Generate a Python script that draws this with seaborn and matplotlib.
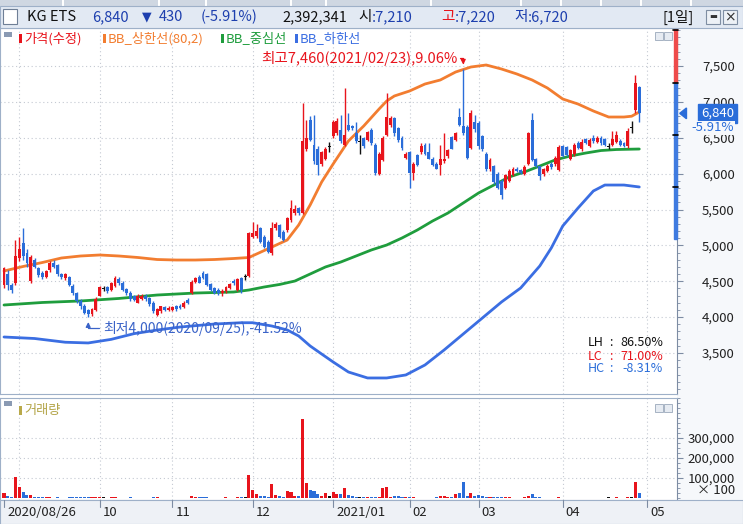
import numpy as np
import pandas as pd
import matplotlib
matplotlib.use("Agg")
import matplotlib.pyplot as plt
import matplotlib.transforms as mtransforms
from matplotlib.patches import Rectangle, Polygon
from matplotlib.ticker import MultipleLocator
import seaborn as sns

# ---------------- data ----------------
ticker = "KG ETS"
cal_start, cal_end = "2020-08-26", "2021-05-31"
krx_holidays = ["2020-09-30", "2020-10-01", "2020-10-02", "2020-10-09",
                "2020-12-25", "2020-12-31", "2021-01-01", "2021-02-11",
                "2021-02-12", "2021-03-01"]

opens = [4450, 4600, 4450, 4470, 4820, 5030, 4900, 4500, 4800, 4680,
         4620, 4560, 4650, 4760, 4720, 4600, 4540, 4560, 4440, 4330,
         4230, 4150, 4100, 4040, 4100, 4300, 4400, 4420, 4380, 4440,
         4530, 4480, 4390, 4340, 4290, 4200, 4250, 4300, 4260, 4200,
         4030, 4080, 4140, 4100, 4100, 4150, 4160, 4140, 4240, 4330,
         4490, 4560, 4610, 4600, 4460, 4400, 4380, 4330, 4360, 4400,
         4510, 4380, 4540, 4560, 4580, 5120, 5130, 5240, 5120, 5050,
         4890, 5240, 5280, 5190, 5210, 5350, 5450, 5520, 5450, 6340,
         6750, 6400, 6350, 6140, 6210, 6380, 6520, 6560, 6610, 6400,
         6680, 6660, 6560, 6450, 6490, 6470, 6610, 6400, 6000, 6190,
         6540, 6680, 6770, 6630, 6500, 6220, 6300, 6010, 6260, 6300,
         6400, 6300, 6210, 6140, 6120, 6170, 6240, 6510, 6470, 6790,
         6660, 6650, 6360, 6720, 6700, 6520, 6280, 6060, 6100, 6000,
         5900, 5800, 5900, 5980, 6070, 6050, 6000, 6140, 6750, 6200,
         6100, 5990, 6040, 6140, 6130, 6050, 6380, 6370, 6210, 6270,
         6430, 6340, 6480, 6390, 6500, 6440, 6490, 6480, 6380, 6400,
         6440, 6460, 6420, 6380, 6640, 6890, 7210]
highs = [4700, 4650, 4470, 5080, 5120, 5240, 4950, 4860, 4830, 4700,
         4640, 4660, 4780, 4790, 4740, 4620, 4620, 4580, 4460, 4350,
         4250, 4180, 4110, 4130, 4280, 4440, 4430, 4440, 4490, 4580,
         4560, 4500, 4410, 4360, 4310, 4320, 4320, 4320, 4280, 4220,
         4130, 4160, 4160, 4150, 4160, 4170, 4180, 4220, 4260, 4520,
         4560, 4590, 4640, 4620, 4470, 4420, 4400, 4390, 4440, 4480,
         4530, 4550, 4560, 4600, 5180, 5330, 5300, 5260, 5140, 5070,
         5330, 5320, 5300, 5210, 5400, 5630, 5560, 5540, 6980, 6750,
         6800, 6820, 6380, 6320, 6370, 6440, 6750, 6780, 6820, 7190,
         6840, 6680, 6720, 6540, 6510, 6600, 6640, 6420, 6300, 6520,
         7120, 6800, 6790, 6650, 6530, 6300, 6320, 6160, 6280, 6420,
         6420, 6420, 6230, 6160, 6400, 6560, 6350, 6530, 6580, 6910,
         7460, 6680, 6880, 6820, 6740, 6540, 6300, 6220, 6120, 6020,
         5920, 6000, 6060, 6090, 6090, 6070, 6120, 6580, 6840, 6220,
         6110, 6080, 6130, 6160, 6240, 6400, 6400, 6390, 6350, 6420,
         6460, 6480, 6500, 6490, 6540, 6520, 6520, 6500, 6420, 6600,
         6600, 6480, 6440, 6640, 6730, 7380, 7220]
lows = [4400, 4380, 4330, 4450, 4780, 4800, 4700, 4480, 4680, 4560,
        4530, 4540, 4630, 4680, 4580, 4530, 4520, 4430, 4310, 4200,
        4120, 4040, 4000, 4020, 4090, 4290, 4370, 4340, 4360, 4420,
        4450, 4360, 4310, 4220, 4220, 4190, 4240, 4230, 4160, 4060,
        4010, 4060, 4090, 4090, 4080, 4090, 4110, 4130, 4180, 4320,
        4470, 4470, 4530, 4440, 4360, 4320, 4310, 4300, 4340, 4390,
        4450, 4360, 4340, 4520, 4560, 5100, 5100, 5030, 4960, 4890,
        4870, 5220, 5100, 5060, 5190, 5330, 5430, 5420, 5440, 6320,
        6450, 6140, 5980, 6100, 6190, 6300, 6500, 6540, 6420, 6380,
        6590, 6610, 6420, 6280, 6360, 6450, 6400, 5980, 5980, 6170,
        6520, 6650, 6530, 6440, 6330, 6200, 5800, 5910, 6100, 6280,
        6260, 6200, 6100, 6060, 5980, 6150, 6220, 6340, 6450, 6660,
        6540, 6200, 6340, 6580, 6340, 6320, 6040, 6040, 5860, 5780,
        5650, 5780, 5880, 5960, 6020, 5990, 5980, 6120, 6170, 6090,
        5910, 5970, 6020, 6070, 6110, 6030, 6230, 6240, 6190, 6250,
        6340, 6320, 6410, 6370, 6430, 6420, 6400, 6380, 6340, 6390,
        6420, 6380, 6370, 6360, 6560, 6850, 6720]
closes = [4680, 4450, 4380, 4850, 4950, 4850, 4750, 4840, 4700, 4590,
          4560, 4640, 4750, 4700, 4600, 4560, 4600, 4450, 4330, 4230,
          4150, 4060, 4040, 4110, 4250, 4420, 4400, 4360, 4470, 4540,
          4470, 4380, 4330, 4250, 4240, 4300, 4300, 4250, 4180, 4080,
          4110, 4150, 4100, 4130, 4140, 4110, 4130, 4200, 4200, 4490,
          4540, 4480, 4550, 4450, 4380, 4340, 4330, 4370, 4420, 4460,
          4470, 4530, 4380, 4560, 5170, 5170, 5200, 5050, 4980, 4910,
          5240, 5300, 5120, 5080, 5380, 5520, 5500, 5450, 6450, 6490,
          6470, 6170, 6120, 6300, 6350, 6380, 6720, 6740, 6450, 6540,
          6610, 6630, 6450, 6450, 6380, 6580, 6420, 6010, 6280, 6490,
          6790, 6780, 6560, 6470, 6360, 6280, 6010, 6140, 6120, 6380,
          6280, 6210, 6120, 6070, 6210, 6210, 6330, 6350, 6560, 6680,
          6560, 6220, 6840, 6620, 6380, 6340, 6060, 6190, 5880, 5800,
          5700, 5980, 6040, 6070, 6030, 6010, 6090, 6560, 6190, 6110,
          5960, 6060, 6100, 6090, 6220, 6370, 6250, 6260, 6330, 6400,
          6360, 6440, 6430, 6470, 6450, 6500, 6420, 6400, 6380, 6480,
          6540, 6400, 6390, 6600, 6640, 7270, 6840]
# volume in units of 100 shares
volumes = [26000, 12000, 5000, 107000, 54000, 32000, 15000, 15000, 6000, 4000,
           3000, 3500, 4000, 2500, 3000, 2000, 2500, 3000, 3500, 3000,
           3500, 4000, 5000, 3000, 4000, 6000, 3000, 2500, 3000, 3500,
           2500, 2500, 2000, 3000, 2000, 2500, 2500, 2000, 2500, 3000,
           3000, 2500, 2000, 2000, 2500, 2000, 2000, 2500, 2000, 8000,
           4000, 3000, 3000, 3500, 2500, 2000, 2000, 2500, 3000, 2500,
           2000, 4000, 6000, 3000, 117000, 42000, 20000, 9000, 9000, 5000,
           71000, 15000, 9000, 6000, 37000, 32000, 10000, 9000, 395000, 76000,
           42000, 37000, 20000, 8000, 26000, 9000, 32000, 20000, 20000, 49000,
           15000, 9000, 6000, 4000, 3000, 5000, 4000, 4000, 6000, 49000,
           54000, 6000, 9000, 9000, 4000, 3000, 4000, 3000, 2500, 2500,
           2000, 2500, 2000, 3000, 9000, 12000, 4000, 3000, 20000, 26000,
           82000, 8000, 26000, 12000, 15000, 10000, 4000, 5000, 3000, 3000,
           3500, 4000, 3000, 2500, 2000, 2000, 3000, 9000, 20000, 4000,
           3000, 2500, 2500, 2000, 2500, 4000, 2500, 2000, 2500, 2000,
           2500, 2000, 2000, 2500, 2000, 2000, 2500, 2000, 3000, 2500,
           3000, 2000, 2500, 7000, 6000, 82000, 23923.41]

# Bollinger band (80, 2) values at selected sessions
upper_idx = [0, 5, 10, 15, 20, 25, 30, 35, 40, 45, 50, 55, 60, 64, 66, 70, 74, 77,
             80, 83, 86, 90, 94, 98, 100, 102, 106, 110, 114, 118, 122, 126, 130, 134,
             138, 142, 146, 150, 154, 158, 162, 164, 166]
upper_val = [4643, 4706, 4761, 4824, 4852, 4866, 4852, 4831, 4803, 4796, 4796, 4803,
             4817, 4831, 4880, 4977, 5075, 5284, 5563, 5883, 6134, 6455, 6664, 6900,
             7012, 7082, 7152, 7249, 7305, 7416, 7486, 7514, 7458, 7389, 7305, 7193,
             7040, 6970, 6873, 6789, 6789, 6800, 6859]
mid_idx = [0, 10, 20, 30, 40, 50, 60, 64, 68, 72, 76, 80, 84, 88, 92, 96, 100, 104,
           108, 112, 116, 120, 124, 128, 132, 136, 140, 144, 148, 152, 156, 160, 166]
mid_val = [4169, 4204, 4225, 4260, 4308, 4336, 4350, 4378, 4420, 4455, 4503, 4601,
           4699, 4768, 4852, 4936, 5005, 5103, 5214, 5340, 5451, 5591, 5730, 5841,
           5953, 6023, 6106, 6190, 6246, 6287, 6322, 6336, 6343]
lower_idx = [0, 8, 16, 22, 28, 34, 40, 46, 55, 62, 65, 70, 74, 77, 80, 83, 86, 90, 95,
             100, 105, 110, 115, 120, 125, 130, 135, 140, 143, 146, 150, 154, 157,
             162, 166]
lower_val = [3723, 3702, 3650, 3640, 3690, 3770, 3820, 3862, 3904, 3922, 3922, 3876,
             3821, 3737, 3598, 3486, 3375, 3235, 3152, 3152, 3194, 3333, 3542, 3765,
             3988, 4211, 4406, 4713, 4963, 5270, 5521, 5758, 5841, 5841, 5814]

x_tick_labels = ["2020/08/26", "10", "11", "12", "2021/01", "02", "03", "04", "05"]
price_ticks = [3500, 4000, 4500, 5000, 5500, 6000, 6500, 7000, 7500]
volume_ticks = [100000, 200000, 300000]

# ---------------- style ----------------
RED, BLUE, BLACK = "#e8141c", "#2a6dd9", "#111111"
ORANGE, GREEN, LBLUE = "#f27d30", "#1f9d3d", "#3b6ee2"
GRID, FRAME, AXC = "#c4c9d2", "#9eb0c8", "#7d8ca3"
NAVY = "#1d3fae"

sns.set_theme(style="white")
plt.rcParams["font.family"] = ["Noto Sans CJK KR", "DejaVu Sans"]
plt.rcParams["axes.unicode_minus"] = False

W, H = 743, 524
fig = plt.figure(figsize=(W / 100, H / 100), dpi=100)
fig.patch.set_facecolor("white")


def rect(x0, y0, x1, y1):
    return [x0 / W, 1 - y1 / H, (x1 - x0) / W, (y1 - y0) / H]


def ftext(x, y, s, **kw):
    kw.setdefault("va", "center")
    kw.setdefault("zorder", 5)
    return fig.text(x / W, 1 - y / H, s, **kw)


def fbox(x0, y0, x1, y1, zorder=3, **kw):
    fig.patches.append(Rectangle((x0 / W, 1 - y1 / H), (x1 - x0) / W, (y1 - y0) / H,
                                 transform=fig.transFigure, zorder=zorder, **kw))


# ---------------- calendar ----------------
cal = pd.bdate_range(cal_start, cal_end)
cal = cal[~cal.isin(pd.to_datetime(krx_holidays))]
n = len(closes)
dates = cal[:n]
month_starts = [i for i in range(1, len(cal)) if cal[i].month != cal[i - 1].month]
PX0, PXD = 4.0, 3.827          # first session pixel, pixels per session
xlim = (-PX0 / PXD, (677 - PX0) / PXD)
label_pos = [0] + [m for m in month_starts if cal[m].month != 9][: len(x_tick_labels) - 1]

o, h, l, c = (np.asarray(a, float) for a in (opens, highs, lows, closes))
v = np.asarray(volumes, float)
x = np.arange(n)
col = np.where(c > o, RED, np.where(c < o, BLUE, BLACK))

# ---------------- frames (behind the axes) ----------------
fbox(677, 28, 743, 500, zorder=-10, facecolor="#f6f8fb", edgecolor="none")
fbox(0, 0, 743, 6, facecolor="#cfd7e2", edgecolor="none")
for bx in [62, 158, 205, 290, 325, 430, 520, 560, 600, 640, 690]:
    fbox(bx, 0, bx + 2, 6, facecolor="white", edgecolor="none")
fbox(0, 6, 743, 28, facecolor="#e2e9f3", edgecolor=FRAME, linewidth=0.8)
fbox(0, 500, 743, 524, facecolor="#eef1f6", edgecolor=FRAME, linewidth=0.8)

# ---------------- price panel ----------------
ax = fig.add_axes(rect(0, 28, 677, 394))
ax.set_facecolor("white")
ax.set_xlim(*xlim)
ax.set_ylim(7500 - (394 - 66) / 0.07175, 7500 + (66 - 28) / 0.07175)

for m in month_starts:
    if m < xlim[1]:
        ax.axvline(m, color=GRID, lw=0.8, ls=(0, (1, 2.5)), zorder=0)
for p in price_ticks:
    ax.axhline(p, color=GRID, lw=0.8, ls=(0, (1, 2.5)), zorder=0)

sns.lineplot(x=upper_idx, y=upper_val, ax=ax, color=ORANGE, lw=2.0, legend=False, zorder=2)
sns.lineplot(x=mid_idx, y=mid_val, ax=ax, color=GREEN, lw=2.0, legend=False, zorder=2)
sns.lineplot(x=lower_idx, y=lower_val, ax=ax, color=LBLUE, lw=2.0, legend=False, zorder=2)

ax.vlines(x, l, h, colors=col, lw=1.0, zorder=3)
body_lo = np.minimum(o, c)
body_h = np.abs(c - o)
flat = body_h == 0
body_lo = np.where(flat, o - 7, body_lo)
body_h = np.where(flat, 14, body_h)
ax.bar(x, body_h, bottom=body_lo, width=0.76, color=col, linewidth=0, zorder=4)

ax.yaxis.tick_right()
ax.set_yticks(price_ticks)
ax.set_yticklabels([f"{p:,}" for p in price_ticks])
ax.yaxis.set_minor_locator(MultipleLocator(100))
ax.tick_params(axis="y", which="major", direction="out", length=4, width=0.8,
               color=AXC, labelsize=9.5, labelcolor="#222222", pad=37.5)
ax.tick_params(axis="y", which="minor", direction="out", length=2.5, width=0.6, color=AXC)
for t in ax.get_yticklabels():
    t.set_ha("right")
ax.tick_params(axis="x", bottom=False, labelbottom=False)
ax.set_xlabel("")
ax.set_ylabel("")
for s in ax.spines.values():
    s.set_color(FRAME)
    s.set_linewidth(0.8)
ax.spines["right"].set_color(AXC)

# daily price-limit bar on the price axis
last, prev = c[-1], c[-2]
bt = mtransforms.blended_transform_factory(ax.transAxes, ax.transData)
ytop = ax.get_ylim()[1]
ax.add_patch(Rectangle((0.9955, prev), 0.0045, ytop - prev, transform=bt,
                       color="#ee4b4b", clip_on=False, zorder=6))
ax.add_patch(Rectangle((0.9955, prev * 0.7), 0.0045, prev * 0.3, transform=bt,
                       color="#3f7be0", clip_on=False, zorder=6))
for f in (1.1, 1.0, 0.9, 0.8):
    if prev * f < ytop:
        ax.plot([0.994, 1.001], [prev * f, prev * f], transform=bt, color="black",
                lw=1.2, clip_on=False, zorder=7)

# current price marker
ax.add_patch(Polygon([[1.004, last], [1.014, last + 75], [1.014, last - 75]],
                     closed=True, transform=bt, color=BLUE, clip_on=False, zorder=8))
ax.text(1.084, last, f"{int(last):,}", transform=bt, ha="right", va="center",
        fontsize=9.5, color="white", zorder=9,
        bbox=dict(boxstyle="square,pad=0.22", fc=BLUE, ec=BLUE))
chg_pct = (last - prev) / prev * 100
ax.text(1.084, last - 200, f"{chg_pct:.2f}%", transform=bt, ha="right", va="center",
        fontsize=9.5, color=BLUE, zorder=9,
        bbox=dict(boxstyle="square,pad=0.05", fc="#f6f8fb", ec="none"))

# high / low annotations
hi_i, lo_i = int(np.argmax(h)), int(np.argmin(l))
hi, lo = h[hi_i], l[lo_i]
ax.text(hi_i - 1.6, 7611, f"최고{int(hi):,}({dates[hi_i]:%Y/%m/%d}),{(hi - last) / last * 100:.2f}%",
        ha="right", va="center", fontsize=10.5, color=RED, zorder=9)
ax.annotate("", xy=(hi_i, hi + 20), xytext=(hi_i - 1.5, 7611),
            arrowprops=dict(arrowstyle="-|>", color=RED, lw=0.9, mutation_scale=7,
                            connectionstyle="angle,angleA=0,angleB=90,rad=0"), zorder=9)
ax.text(lo_i + 3.9, 3848, f"최저{int(lo):,}({dates[lo_i]:%Y/%m/%d}),{(lo - last) / last * 100:.2f}%",
        ha="left", va="center", fontsize=10, color="#3a63c8", zorder=9)
ax.annotate("", xy=(lo_i, lo - 30), xytext=(lo_i + 3.6, 3848),
            arrowprops=dict(arrowstyle="-|>", color="#3a63c8", lw=0.9, mutation_scale=7,
                            connectionstyle="angle,angleA=0,angleB=90,rad=0"), zorder=9)

# range statistics
stats = [("LH", (hi - lo) / lo * 100, BLACK), ("LC", (last - lo) / lo * 100, RED),
         ("HC", (last - hi) / hi * 100, BLUE)]
for k, (name, val, cc) in enumerate(stats):
    yy = 343 + 13 * k
    ftext(588, yy, name, fontsize=9, color=cc, ha="left")
    ftext(609, yy, ":", fontsize=9, color=cc, ha="left")
    ftext(663, yy, f"{val:.2f}%", fontsize=9, color=cc, ha="right")

# legend row
legend_items = [(19, "가격(수정)", RED), (103, "BB_상한선(80,2)", ORANGE),
                (221, "BB_중심선", GREEN), (295, "BB_하한선", LBLUE)]
fbox(4, 32, 12, 37, facecolor="#8a9ab3", edgecolor="none")
for lx, txt, cc in legend_items:
    fbox(lx, 34, lx + 3, 43, facecolor=cc, edgecolor="none")
    ftext(lx + 5, 38.5, txt, fontsize=9.5, color=cc, ha="left")

# panel buttons
for yb in (32, 404):
    for bx in (655, 664):
        fbox(bx, yb, bx + 8, yb + 8, facecolor="#e6ebf2", edgecolor="#9aa8bb", linewidth=0.6)

# ---------------- volume panel ----------------
axv = fig.add_axes(rect(0, 398, 677, 500))
axv.set_facecolor("white")
axv.set_xlim(*xlim)
axv.set_ylim(-(500 - 498) * 5000, (498 - 398) * 5000)
for m in month_starts:
    if m < xlim[1]:
        axv.axvline(m, color=GRID, lw=0.8, ls=(0, (1, 2.5)), zorder=0)
for vt in volume_ticks:
    axv.axhline(vt, color=GRID, lw=0.8, ls=(0, (1, 2.5)), zorder=0)
axv.bar(x, v, width=0.8, color=col, linewidth=0, zorder=3)
axv.yaxis.tick_right()
axv.set_yticks(volume_ticks)
axv.set_yticklabels([f"{t:,}" for t in volume_ticks])
axv.yaxis.set_minor_locator(MultipleLocator(25000))
axv.tick_params(axis="y", which="major", direction="out", length=4, width=0.8,
                color=AXC, labelsize=9.5, labelcolor="#222222", pad=37.5)
axv.tick_params(axis="y", which="minor", direction="out", length=2.5, width=0.6, color=AXC)
for t in axv.get_yticklabels():
    t.set_ha("right")
axv.tick_params(axis="x", bottom=False, labelbottom=False)
for s in axv.spines.values():
    s.set_color(FRAME)
    s.set_linewidth(0.8)
axv.spines["right"].set_color(AXC)
ftext(735, 491, "× 100", fontsize=9.5, color="#222222", ha="right")
fbox(4, 401, 12, 406, facecolor="#8a9ab3", edgecolor="none")
fbox(19, 406, 22, 415, facecolor="#b9a94a", edgecolor="none")
ftext(24, 410.5, "거래량", fontsize=9.5, color="#b3a447", ha="left")

# ---------------- date axis ----------------
for pos, lab in zip(label_pos, x_tick_labels):
    px = PX0 + PXD * pos
    fig.add_artist(plt.Line2D([px / W, px / W], [1 - 500 / H, 1 - 507 / H],
                              transform=fig.transFigure, color=AXC, lw=0.8, zorder=5))
    ftext(px + 3, 512, lab, fontsize=9.5, color="#222222", ha="left")

# ---------------- header ----------------
fbox(3, 9, 17, 24, facecolor="white", edgecolor="#6f7f96", linewidth=0.8)
chg = last - prev
ftext(27, 17, ticker, fontsize=10.5, color="#111111", ha="left")
ftext(92, 17, f"{int(last):,}", fontsize=10.5, color=NAVY, ha="left")
ftext(142, 17, "▼", fontsize=9, color=NAVY, ha="left", family="DejaVu Sans")
ftext(159, 17, f"{int(abs(chg)):,}", fontsize=10.5, color=NAVY, ha="left")
ftext(201, 17, f"({chg_pct:.2f}%)", fontsize=10.5, color=NAVY, ha="left")
ftext(282, 17, f"{int(round(v[-1] * 100)):,}", fontsize=10.5, color="#111111", ha="left")
ftext(358, 17, "시", fontsize=10.5, color="#111111", ha="left")
ftext(372, 17, f":{int(o[-1]):,}", fontsize=10.5, color=NAVY, ha="left")
ftext(441, 17, "고", fontsize=10.5, color=RED, ha="left")
ftext(455, 17, f":{int(h[-1]):,}", fontsize=10.5, color=NAVY, ha="left")
ftext(514, 17, "저", fontsize=10.5, color=NAVY, ha="left")
ftext(528, 17, f":{int(l[-1]):,}", fontsize=10.5, color=NAVY, ha="left")
ftext(663, 17, "[1일]", fontsize=10.5, color="#111111", ha="left")
for bx in (706, 723):
    fbox(bx, 10, bx + 14, 24, facecolor="#edf1f6", edgecolor="#7f8ea3", linewidth=0.8)
ftext(713, 17, "▬", fontsize=6, color="#333333", ha="center", family="DejaVu Sans")
ftext(730, 17, "×", fontsize=10, color="#333333", ha="center", family="DejaVu Sans")

fig.savefig("out.png", dpi=100, facecolor=fig.get_facecolor())
